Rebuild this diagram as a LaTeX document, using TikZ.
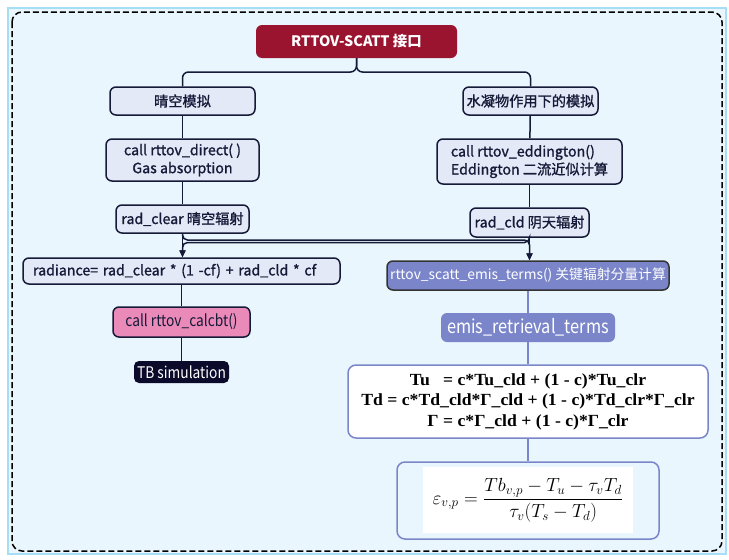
\documentclass[tikz,border=0pt]{standalone}
\usepackage{fontspec}
\usepackage{graphicx}
\setmainfont{Noto Sans CJK SC}
\newfontfamily\cjkmed{Noto Sans CJK SC}[FakeBold=1.2]
\newfontfamily\narrowf{Noto Sans CJK SC}[FakeStretch=0.86]
\newfontfamily\serifb{Liberation Serif}[FakeStretch=1.04]
\usetikzlibrary{arrows.meta}
\definecolor{bgblue}{HTML}{E9F6FD}
\definecolor{edgeblue}{HTML}{A6DEF6}
\definecolor{rootred}{HTML}{9B142F}
\definecolor{lav}{HTML}{E4E9F7}
\definecolor{navy}{HTML}{151A38}
\definecolor{peri}{HTML}{7B86CA}
\definecolor{pinkf}{HTML}{E98AB8}
\definecolor{tbblack}{HTML}{0B0A2A}
\definecolor{darkgr}{HTML}{333333}
\tikzset{
  lbox/.style={draw=navy, fill=lav, line width=1.5pt, rounded corners=6pt, inner sep=0pt,
    font=\cjkmed\fontsize{14.2}{18}\selectfont, align=center, text=navy},
  navyline/.style={draw=navy, line width=1.5pt},
  periline/.style={draw=peri, line width=1.5pt},
  arr/.style={-{Triangle[length=7pt,width=6pt]}},
}
\begin{document}
\begin{tikzpicture}[x=1pt,y=-1pt]
\useasboundingbox (0,0) rectangle (729,560);
% background
\draw[draw=edgeblue, line width=2pt, fill=bgblue] (8,8) rectangle (726,554);
\draw[black, line width=1.5pt, dash pattern=on 6pt off 3pt, rounded corners=10pt] (12,12) rectangle (722,551);

% nodes
\node[fill=rootred, rounded corners=6pt, minimum width=201pt, minimum height=33pt, inner sep=0pt,
  text=white, font=\bfseries\fontsize{14.4}{16}\selectfont] (root) at (356.5,41.5) {RTTOV-SCATT 接口};
\node[lbox, minimum width=145pt, minimum height=28pt] (clear) at (182.5,101) {晴空模拟};
\node[lbox, minimum width=135pt, minimum height=28pt] (hydro) at (530.5,101) {水凝物作用下的模拟};
\node[lbox, minimum width=153pt, minimum height=42pt] (direct) at (182.5,160) {call rttov\_direct( )\\Gas absorption};
\node[lbox, minimum width=185pt, minimum height=45pt, align=left] (edd) at (529.5,161.5) {call rttov\_eddington()\\Eddington 二流近似计算};
\node[lbox, minimum width=133pt, minimum height=28pt] (radclear) at (182.5,219) {rad\_clear 晴空辐射};
\node[lbox, minimum width=119pt, minimum height=29pt] (radcld) at (529.5,222.5) {rad\_cld 阴天辐射};
\node[lbox, minimum width=317pt, minimum height=26pt, text width=297pt, align=left] (radiance) at (181.5,271)
  {radiance= rad\_clear * (1 -cf) + rad\_cld * cf};
\node[draw=darkgr, fill=peri, line width=1.5pt, rounded corners=6pt, minimum width=282pt, minimum height=29pt,
  inner sep=0pt, text=white, font=\fontsize{13.8}{16}\selectfont] (emis) at (528,275.5) {rttov\_scatt\_emis\_terms() 关键辐射分量计算};
\node[fill=peri, rounded corners=6pt, minimum width=174pt, minimum height=29pt, inner sep=0pt, text=white,
  font=\narrowf\fontsize{19}{22}\selectfont] (retr) at (528,327.5) {emis\_retrieval\_terms};
\node[draw=navy, fill=pinkf, line width=1.5pt, rounded corners=6pt, minimum width=137pt, minimum height=30pt,
  inner sep=0pt, text=navy, font=\narrowf\fontsize{16}{18}\selectfont] (calcbt) at (181.5,322) {call rttov\_calcbt()};
\node[fill=tbblack, rounded corners=5pt, minimum width=95pt, minimum height=22pt, inner sep=0pt, text=white,
  font=\narrowf\fontsize{16}{18}\selectfont] (tb) at (181.5,372) {TB simulation};
\node[draw=peri, fill=white, line width=1.5pt, rounded corners=8pt, minimum width=360pt, minimum height=73pt,
  inner sep=0pt, align=center, font=\serifb\bfseries\fontsize{17}{20.5}\selectfont] (tubox) at (528,401.5)
  {Tu\ \ \ = c*Tu\_cld + (1 - c)*Tu\_clr\\Td = c*Td\_cld*Γ\_cld + (1 - c)*Td\_clr*Γ\_clr\\Γ = c*Γ\_cld + (1 - c)*Γ\_clr};
\node[draw=peri, fill=bgblue, line width=1.5pt, rounded corners=8pt, minimum width=262pt, minimum height=77pt,
  inner sep=0pt] (formula) at (528,500.5) {};
\node[fill=white, minimum width=210pt, minimum height=66pt, inner sep=0pt, font=\fontsize{17.28}{21}\selectfont] (fimg) at (528,500)
  {\scalebox{1.1}{$\displaystyle \varepsilon_{v,p} = \frac{Tb_{v,p}-T_u-\tau_v T_d}{\tau_v(T_s-T_d)}$}};

% connectors
\coordinate (split) at (356.5,72);
\draw[navyline, rounded corners=6pt] (root.south) -- (split) -| (clear.north);
\draw[navyline, rounded corners=6pt] (root.south) -- (split) -| (hydro.north);
\draw[navyline] (clear) -- (direct);
\draw[navyline] (direct) -- (radclear);
\draw[navyline] (hydro) -- (edd);
\draw[navyline] (edd) -- (radcld);
\draw[navyline, arr] (radclear.south) -- (radiance.north -| radclear.south);
\draw[navyline, arr] (radcld.south) -- (emis.north -| radcld.south);
\coordinate (ca) at (182.5,240);
\coordinate (cb) at (529.5,242.5);
\draw[navyline, arr, rounded corners=5pt] (radclear.south) -- (ca) -- (ca -| radcld.south) -- (emis.north -| radcld.south);
\draw[navyline, arr, rounded corners=5pt] (radcld.south) -- (cb) -- (cb -| radclear.south) -- (radiance.north -| radclear.south);
\draw[navyline] (radiance.south -| calcbt.north) -- (calcbt.north);
\draw[navyline] (calcbt) -- (tb);
\draw[periline] (emis) -- (retr);
\draw[periline] (retr) -- (tubox);
\draw[periline] (tubox) -- (formula);
\end{tikzpicture}
\end{document}
